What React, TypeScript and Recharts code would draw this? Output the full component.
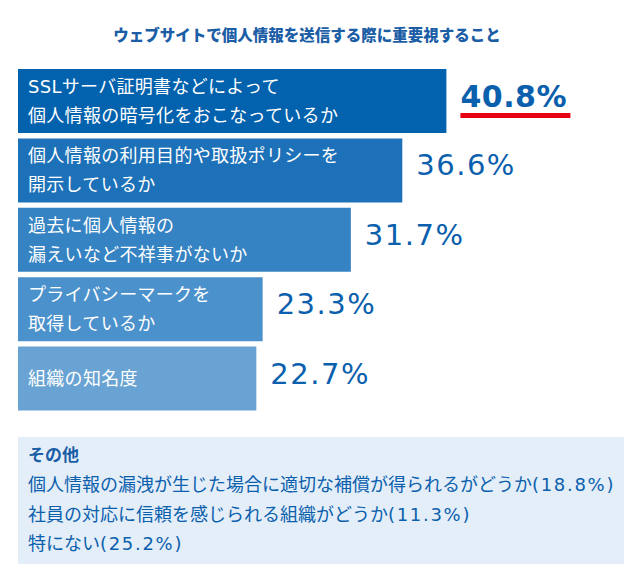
import React from 'react';
import { BarChart, Bar, XAxis, YAxis, Cell, LabelList } from 'recharts';

const title = 'ウェブサイトで個人情報を送信する際に重要視すること';

const categories = [
  ['SSLサーバ証明書などによって', '個人情報の暗号化をおこなっているか'],
  ['個人情報の利用目的や取扱ポリシーを', '開示しているか'],
  ['過去に個人情報の', '漏えいなど不祥事がないか'],
  ['プライバシーマークを', '取得しているか'],
  ['組織の知名度'],
];

const values = [40.8, 36.6, 31.7, 23.3, 22.7];

const otherTitle = 'その他';
const otherItems = [
  '個人情報の漏洩が生じた場合に適切な補償が得られるがどうか(18.8%)',
  '社員の対応に信頼を感じられる組織がどうか(11.3%)',
  '特にない(25.2%)',
];

const barColors = ['#0362ae', '#1d71b8', '#3583c2', '#4b91cb', '#68a3d3'];
const textBlue = '#0b60ad';
const FONT = '"DejaVu Sans", "Noto Sans CJK JP", sans-serif';

const data = categories.map((lines, i) => ({
  name: lines.join('\n'),
  value: values[i],
}));

const CategoryLabel: React.FC<any> = ({ x, y, height, value }) => {
  const lines = String(value).split('\n');
  const cy = y + height / 2;
  const step = 29;
  const start = cy - ((lines.length - 1) * step) / 2;
  return (
    <text x={x + 10} fill="#ffffff" fontSize={18} fontFamily={FONT} letterSpacing={0.3}>
      {lines.map((line, i) => (
        <tspan key={i} x={x + 10} y={start + i * step} dominantBaseline="central">
          {line}
        </tspan>
      ))}
    </text>
  );
};

const ValueLabel: React.FC<any> = ({ x, y, width, height, value, index }) => {
  const top = index === 0 || value === values[0];
  const lx = x + width + 14;
  const cy = y + height / 2 - 5;
  return (
    <g>
      <text
        x={lx}
        y={cy}
        dominantBaseline="central"
        fill={textBlue}
        fontSize={top ? 30 : 29}
        fontWeight={top ? 'bold' : 'normal'}
        fontFamily={FONT}
        letterSpacing={top ? 0.5 : 1.5}
      >
        {`${value.toFixed(1)}%`}
      </text>
      {top && <rect x={lx} y={cy + 17} width={110} height={5} fill="#e60012" />}
    </g>
  );
};

// split "text(xx.x%)" so the latin part can be tracked wider
const OtherLine: React.FC<{ text: string }> = ({ text }) => {
  const k = text.lastIndexOf('(');
  return (
    <div style={{ fontSize: 18, lineHeight: '29.5px', whiteSpace: 'nowrap' }}>
      {text.slice(0, k)}
      <span style={{ letterSpacing: 1.7 }}>{text.slice(k)}</span>
    </div>
  );
};

export default function App() {
  return (
    <div
      style={{
        position: 'absolute',
        left: 0,
        top: 0,
        width: 643,
        height: 577,
        background: '#ffffff',
        fontFamily: FONT,
      }}
    >
      <div
        style={{
          position: 'absolute',
          left: 0,
          top: 24,
          width: 614,
          textAlign: 'center',
          fontSize: 15.5,
          fontWeight: 900,
          color: '#1b5ea6',
          lineHeight: '20px',
          fontFamily: '"Noto Sans CJK JP", sans-serif',
        }}
      >
        {title}
      </div>

      <BarChart
        width={643}
        height={577}
        data={data}
        layout="vertical"
        margin={{ top: 66, right: 100, bottom: 164, left: 18 }}
        style={{ position: 'absolute', left: 0, top: 0 }}
      >
        <XAxis type="number" domain={[0, 50]} hide />
        <YAxis type="category" dataKey="name" hide width={0} />
        <Bar dataKey="value" barSize={64} isAnimationActive={false}>
          {data.map((_, i) => (
            <Cell key={i} fill={barColors[i]} />
          ))}
          <LabelList dataKey="name" content={<CategoryLabel />} />
          <LabelList dataKey="value" content={<ValueLabel />} />
        </Bar>
      </BarChart>

      <div
        style={{
          position: 'absolute',
          left: 18,
          top: 437,
          width: 606,
          height: 127,
          background: '#e3eef8',
          boxSizing: 'border-box',
          padding: '4px 0 0 10px',
          color: textBlue,
        }}
      >
        <div style={{ fontSize: 17, fontWeight: 'bold', lineHeight: '29px', color: '#1b5ea6' }}>
          {otherTitle}
        </div>
        {otherItems.map((t, i) => (
          <OtherLine key={i} text={t} />
        ))}
      </div>
    </div>
  );
}
